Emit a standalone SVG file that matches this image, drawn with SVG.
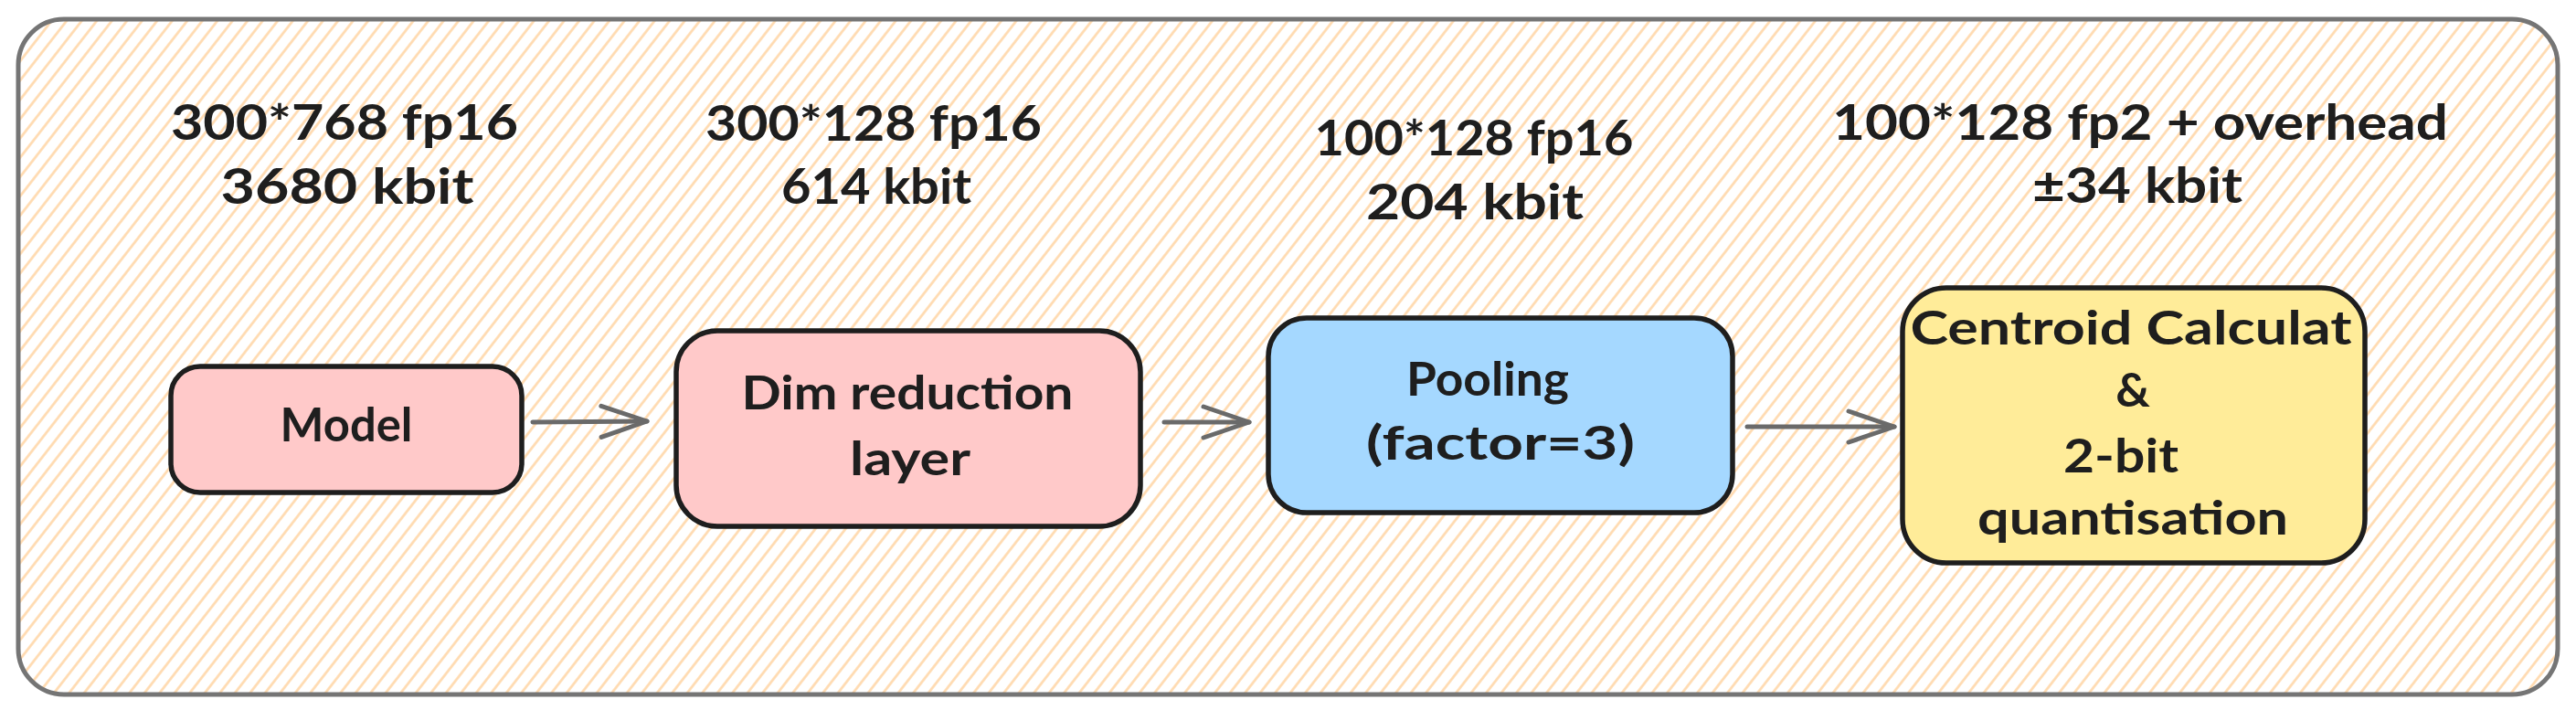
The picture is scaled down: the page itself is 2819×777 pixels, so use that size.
<svg xmlns="http://www.w3.org/2000/svg" width="2819" height="777" viewBox="0 0 2819 777">
  <defs>
    <style>
      .t { font-family: Lato, "Liberation Sans", "DejaVu Sans", sans-serif; font-weight: 700; fill: #1e1e1e; text-anchor: middle; }
      .lbl { font-size: 54px; }
      .bt { font-size: 52px; }
      .box { stroke: #1e1e1e; stroke-width: 5.5; }
      .frame { fill: none; stroke: #757575; stroke-width: 5; }
      .conn path { stroke: #6a6a6a; stroke-width: 5; fill: none; stroke-linecap: round; stroke-linejoin: round; }
    </style>
    <pattern id="hatch" width="13" height="13" patternUnits="userSpaceOnUse" patternTransform="rotate(38)">
      <line x1="6.5" y1="0" x2="6.5" y2="13" stroke="#ffd9ac" stroke-width="2.6"/>
    </pattern>
    <marker id="arr" markerUnits="userSpaceOnUse" markerWidth="64" markerHeight="44" viewBox="0 0 64 44" refX="54" refY="22" orient="auto">
      <path d="M4,5 L54,22 L4,39" fill="none" stroke="#6a6a6a" stroke-width="5" stroke-linecap="round" stroke-linejoin="round"/>
    </marker>
  </defs>

  <rect width="2819" height="777" fill="#ffffff"/>

  <g id="frame">
    <rect x="20" y="21" width="2779" height="739" rx="50" ry="50" fill="#ffffff"/>
    <rect x="20" y="21" width="2779" height="739" rx="50" ry="50" fill="url(#hatch)"/>
    <rect class="frame" x="20" y="21" width="2779" height="739" rx="50" ry="50"/>
  </g>

  <g id="label-1">
    <text class="t lbl" x="377" y="153" textLength="380" lengthAdjust="spacingAndGlyphs">300*768 fp16</text>
    <text class="t lbl" x="380" y="223" textLength="277" lengthAdjust="spacingAndGlyphs">3680 kbit</text>
  </g>
  <g id="label-2">
    <text class="t lbl" x="956" y="154" textLength="368" lengthAdjust="spacingAndGlyphs">300*128 fp16</text>
    <text class="t lbl" x="959" y="223" textLength="208" lengthAdjust="spacingAndGlyphs">614 kbit</text>
  </g>
  <g id="label-3">
    <text class="t lbl" x="1613" y="170" textLength="349" lengthAdjust="spacingAndGlyphs">100*128 fp16</text>
    <text class="t lbl" x="1614" y="240" textLength="238" lengthAdjust="spacingAndGlyphs">204 kbit</text>
  </g>
  <g id="label-4">
    <text class="t lbl" x="2342" y="153" textLength="674" lengthAdjust="spacingAndGlyphs">100*128 fp2 + overhead</text>
    <text class="t lbl" x="2339" y="222" textLength="230" lengthAdjust="spacingAndGlyphs">±34 kbit</text>
  </g>

  <g id="node-model">
    <rect class="box" x="187" y="401" width="384" height="138" rx="32" ry="32" fill="#ffc9c9"/>
    <text class="t bt" x="379" y="483" textLength="145" lengthAdjust="spacingAndGlyphs">Model</text>
  </g>

  <g id="node-dim-reduction">
    <rect class="box" x="740" y="362" width="508" height="214" rx="45" ry="45" fill="#ffc9c9"/>
    <text class="t bt" x="993" y="448" textLength="363" lengthAdjust="spacingAndGlyphs">Dim reduction</text>
    <text class="t bt" x="996" y="520" textLength="132" lengthAdjust="spacingAndGlyphs">layer</text>
  </g>

  <g id="node-pooling">
    <rect class="box" x="1388" y="348" width="508" height="213" rx="42" ry="42" fill="#a5d8ff"/>
    <text class="t bt" x="1628" y="433" textLength="178" lengthAdjust="spacingAndGlyphs">Pooling</text>
    <text class="t bt" x="1642" y="503" textLength="294" lengthAdjust="spacingAndGlyphs">(factor=3)</text>
  </g>

  <g id="node-centroid">
    <rect class="box" x="2082" y="315" width="506" height="301" rx="48" ry="48" fill="#ffec99"/>
    <text class="t bt" x="2332" y="377" textLength="483" lengthAdjust="spacingAndGlyphs">Centroid Calculat</text>
    <text class="t bt" x="2334" y="445">&amp;</text>
    <text class="t bt" x="2321" y="517" textLength="126" lengthAdjust="spacingAndGlyphs">2-bit</text>
    <text class="t bt" x="2334" y="585" textLength="340" lengthAdjust="spacingAndGlyphs">quantisation</text>
  </g>

  <g id="connectors" class="conn">
    <path d="M583,462 L708,461" marker-end="url(#arr)"/>
    <path d="M1274,462 L1367,462" marker-end="url(#arr)"/>
    <path d="M1912,467 L2073,467" marker-end="url(#arr)"/>
  </g>
</svg>
